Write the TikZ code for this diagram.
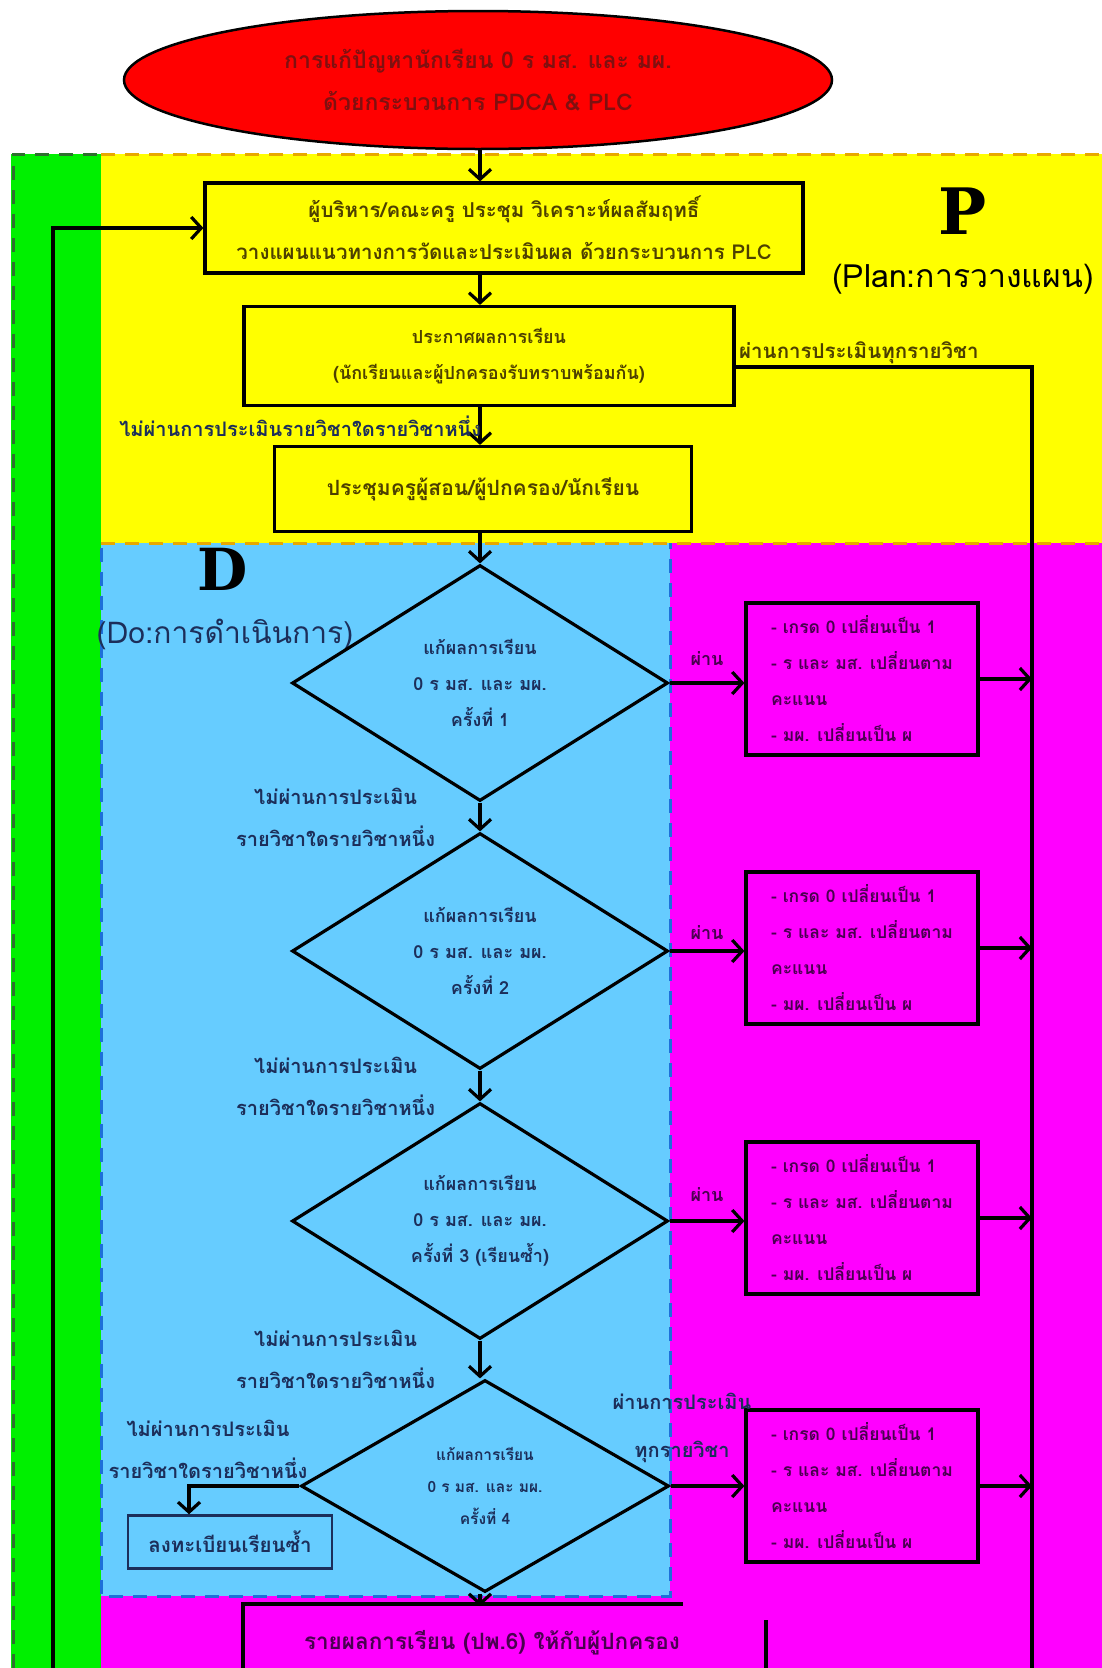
\documentclass[tikz,border=0pt]{standalone}
\usepackage{fontspec}
\setmainfont[Script=Thai]{Loma}
\newfontfamily\heavy{DejaVu Serif}
\usetikzlibrary{shapes.geometric,arrows.meta,positioning}
\definecolor{plan}{HTML}{FFFF00}
\definecolor{planedge}{HTML}{E8A800}
\definecolor{doarea}{HTML}{66CCFF}
\definecolor{doedge}{HTML}{1E6FD9}
\definecolor{checkarea}{HTML}{FF00FF}
\definecolor{actarea}{HTML}{00F000}
\definecolor{actedge}{HTML}{2F6F2F}
\definecolor{plantext}{HTML}{4D4000}
\definecolor{dotext}{HTML}{1C2E5A}
\definecolor{checktext}{HTML}{4A0050}
\definecolor{titletext}{HTML}{7F1010}

\begin{document}
\begin{tikzpicture}[x=1pt,y=-1pt,
	box/.style={draw, line width=3.2pt, align=center, inner sep=0pt},
	decide/.style={diamond, draw, line width=3.2pt, align=center, inner sep=0pt, aspect=1.6, minimum width=376pt, minimum height=236pt, text=dotext, font=\bfseries\fontsize{18}{36}\selectfont},
	grade/.style={draw, line width=3.2pt, align=left, minimum width=232pt, minimum height=152pt, text=checktext, font=\bfseries\fontsize{17.5}{36}\selectfont},
	arr/.style={line width=3.2pt, -{Straight Barb[length=10pt,width=22pt]}},
	lbl/.style={align=center, text=dotext, font=\bfseries\fontsize{20}{42}\selectfont},
	passlbl/.style={text=checktext, font=\bfseries\fontsize{18}{20}\selectfont}]
	\path[use as bounding box] (0,0) rectangle (1102,1668);
	\clip (0,0) rectangle (1102,1668);
	\fill[white] (0,0) rectangle (1102,1668);
	\fill[checkarea] (101,543) rectangle (1102,1668);
	\fill[doarea] (101,543) rectangle (670,1596);
	\fill[plan] (101,154) rectangle (1102,543);
	\fill[actarea] (11,154) rectangle (101,1668);
	\draw[planedge, line width=3pt, dash pattern=on 14pt off 10pt] (101,154) -- (1102,154) (101,543) -- (1102,543);
	\draw[doedge, line width=3pt, dash pattern=on 14pt off 10pt] (101,548) -- (101,1596) -- (670,1596) -- (670,543);
	\draw[actedge, line width=3pt, dash pattern=on 14pt off 10pt] (13,1668) -- (13,154) -- (101,154);

	\node[ellipse, draw, line width=2.5pt, fill=red, minimum width=708pt, minimum height=138pt, align=center, text=titletext, font=\bfseries\fontsize{23}{42}\selectfont] (goal) at (478,80) {การแก้ปัญหานักเรียน 0 ร มส. และ มผ.\\ด้วยกระบวนการ PDCA \& PLC};
	\node[box, minimum width=598pt, minimum height=90pt, text=plantext, font=\bfseries\fontsize{20.5}{42}\selectfont] (meet) at (504,228) {ผู้บริหาร/คณะครู ประชุม วิเคราะห์ผลสัมฤทธิ์\\วางแผนแนวทางการวัดและประเมินผล ด้วยกระบวนการ PLC};
	\node[box, minimum width=490pt, minimum height=99pt, text=plantext, font=\bfseries\fontsize{18}{36}\selectfont] (announce) at (489,356) {ประกาศผลการเรียน\\(นักเรียนและผู้ปกครองรับทราบพร้อมกัน)};
	\node[box, minimum width=417pt, minimum height=85pt, text=plantext, font=\bfseries\fontsize{21}{40}\selectfont] (parents) at (483,489) {ประชุมครูผู้สอน/ผู้ปกครอง/นักเรียน};

	\node[font=\heavy\bfseries\fontsize{64}{64}\selectfont] (p) at (963,211) {P};
	\node[font=\fontsize{32}{34}\selectfont] (plan) at (963,279) {(Plan:การวางแผน)};
	\node[font=\heavy\bfseries\fontsize{58}{58}\selectfont] (d) at (223,569) {D};
	\node[text=dotext, font=\fontsize{30}{32}\selectfont] (do) at (225,634) {(Do:การดำเนินการ)};

	\node[decide] (try1) at (480,683) {แก้ผลการเรียน\\0 ร มส. และ มผ.\\ครั้งที่ 1};
	\node[decide] (try2) at (480,951) {แก้ผลการเรียน\\0 ร มส. และ มผ.\\ครั้งที่ 2};
	\node[decide] (try3) at (480,1221) {แก้ผลการเรียน\\0 ร มส. และ มผ.\\ครั้งที่ 3 (เรียนซ้ำ)};
	\node[decide, minimum width=368pt, minimum height=212pt, font=\bfseries\fontsize{15.5}{32}\selectfont] (try4) at (485,1486) {แก้ผลการเรียน\\0 ร มส. และ มผ.\\ครั้งที่ 4};

	\node[grade] (ok1) at (862,679) {- เกรด 0 เปลี่ยนเป็น 1\\- ร และ มส. เปลี่ยนตาม\\คะแนน\\- มผ. เปลี่ยนเป็น ผ};
	\node[grade] (ok2) at (862,948) {- เกรด 0 เปลี่ยนเป็น 1\\- ร และ มส. เปลี่ยนตาม\\คะแนน\\- มผ. เปลี่ยนเป็น ผ};
	\node[grade] (ok3) at (862,1218) {- เกรด 0 เปลี่ยนเป็น 1\\- ร และ มส. เปลี่ยนตาม\\คะแนน\\- มผ. เปลี่ยนเป็น ผ};
	\node[grade] (ok4) at (862,1486) {- เกรด 0 เปลี่ยนเป็น 1\\- ร และ มส. เปลี่ยนตาม\\คะแนน\\- มผ. เปลี่ยนเป็น ผ};

	\node[box, draw=dotext, line width=2.5pt, minimum width=204pt, minimum height=53pt, text=dotext, font=\bfseries\fontsize{20.5}{40}\selectfont] (again) at (230,1542) {ลงทะเบียนเรียนซ้ำ};
	\node[lbl] (fail4) at (208,1449) {ไม่ผ่านการประเมิน\\รายวิชาใดรายวิชาหนึ่ง};
	\node[lbl, font=\bfseries\fontsize{20}{48}\selectfont] (pass4) at (682,1428) {ผ่านการประเมิน\\ทุกรายวิชา};
	\node[text=checktext, font=\bfseries\fontsize{22.5}{42}\selectfont] (report) at (492,1643) {รายผลการเรียน (ปพ.6) ให้กับผู้ปกครอง};
	\draw[line width=3.2pt] (243,1672) -- (243,1604) -- (683,1604) (766,1620) -- (766,1672);

	\coordinate (axis) at (480,0);
	\coordinate (loop) at (53,1668);
	\coordinate (allpass) at (1032,1668);
	\coordinate (drop) at (189,0);
	\coordinate (reporttop) at (480,1606);

	\draw[arr] (goal.south -| axis) -- (axis |- meet.north);
	\draw[arr] (axis |- meet.south) -- (axis |- announce.north);
	\draw[arr] (axis |- announce.south) -- (axis |- parents.north) node[midway, left=-6pt, lbl] {ไม่ผ่านการประเมินรายวิชาใดรายวิชาหนึ่ง};
	\draw[arr] (axis |- parents.south) -- (try1.north);
	\draw[arr] (try1.south) -- (try2.north) node[midway, left=40pt, lbl] {ไม่ผ่านการประเมิน\\รายวิชาใดรายวิชาหนึ่ง};
	\draw[arr] (try2.south) -- (try3.north) node[midway, left=40pt, lbl] {ไม่ผ่านการประเมิน\\รายวิชาใดรายวิชาหนึ่ง};
	\draw[arr] (try3.south) -- (try4.north -| axis) node[midway, left=40pt, lbl] {ไม่ผ่านการประเมิน\\รายวิชาใดรายวิชาหนึ่ง};
	\draw[arr] (try4.south -| axis) -- (reporttop);
	\draw[arr] (try4.west) -| (drop |- again.north);

	\draw[arr] (try1.east) -- (try1.east -| ok1.west) node[midway, above=12pt, passlbl] {ผ่าน};
	\draw[arr] (try2.east) -- (try2.east -| ok2.west) node[midway, above=6pt, passlbl] {ผ่าน};
	\draw[arr] (try3.east) -- (try3.east -| ok3.west) node[midway, above=14pt, passlbl] {ผ่าน};
	\draw[arr] (try4.east) -- (ok4.west);
	\foreach \n in {ok1,ok2,ok3,ok4}
		\draw[arr] (\n.east) -- (\n.east -| allpass);

	\draw[line width=3.2pt] ([yshift=-11pt]announce.east) -| (allpass) node[pos=0, above right, inner sep=2pt, text=plantext, font=\bfseries\fontsize{20.5}{24}\selectfont] {ผ่านการประเมินทุกรายวิชา};
	\draw[arr] (loop) |- (meet.west);
\end{tikzpicture}
\end{document}
